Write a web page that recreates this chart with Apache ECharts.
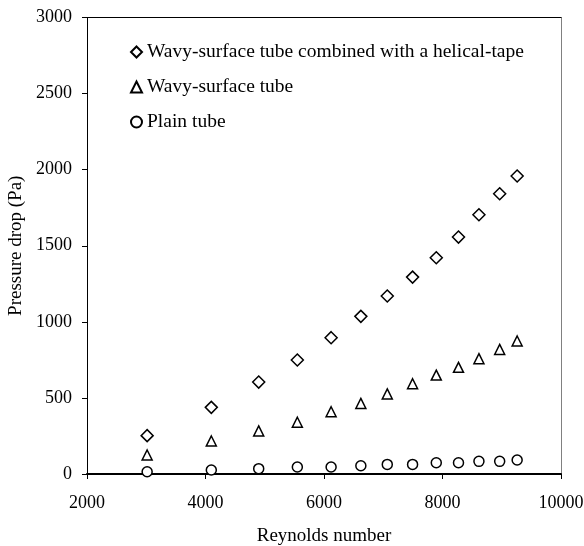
<!DOCTYPE html>
<html>
<head>
<meta charset="utf-8">
<script src="https://cdn.jsdelivr.net/npm/echarts@6/dist/echarts.min.js"></script>
<style>html,body{margin:0;padding:0;background:#fff}#c{width:584px;height:546px}</style>
</head>
<body>
<div id="c"></div>
<script>
var reynolds = [3015, 4098, 4898, 5550, 6120, 6622, 7068, 7495, 7895, 8270, 8615, 8965, 9260];
var helicalTape = [252, 438, 604, 749, 896, 1036, 1170, 1294, 1421, 1557, 1704, 1842, 1958];
var wavyTube = [125, 217, 283, 340, 409, 464, 526, 593, 650, 701, 758, 819, 874];
var plainTube = [15, 26, 35, 46, 46, 54, 63, 63, 74, 74, 83, 83, 92];
var seriesNames = ['Wavy-surface tube combined with a helical-tape', 'Wavy-surface tube', 'Plain tube'];

function pairs(ys){ return reynolds.map(function(x,i){ return [x, ys[i]]; }); }
var FONT = 'Liberation Serif';
var chart = echarts.init(document.getElementById('c'), null, {renderer:'canvas'});
function mk(name, sym, size, ys){
  return {
    name: name, type: 'scatter', symbol: sym, symbolSize: size,
    data: pairs(ys),
    itemStyle: {color: '#fff', borderColor: '#000', borderWidth: 1.5, opacity: 1},
    emphasis: {disabled: true}
  };
}
function plain(v){ return String(v); }
chart.setOption({
  animation: false,
  backgroundColor: '#fff',
  grid: {left: 87, right: 23, top: 17.5, bottom: 72, show: false, containLabel: false, outerBoundsMode: 'none'},
  legend: {
    orient: 'vertical', left: 125, top: 37, itemGap: 15,
    itemWidth: 11, itemHeight: 11,
    textStyle: {fontFamily: FONT, fontSize: 19.5, color: '#000'},
    data: seriesNames
  },
  xAxis: [{
    type: 'value', min: 2000, max: 10000, interval: 2000,
    name: 'Reynolds number', nameLocation: 'middle', nameGap: 53,
    nameTextStyle: {fontFamily: FONT, fontSize: 19, color: '#000'},
    axisLine: {show: true, onZero: false, lineStyle: {color: '#000', width: 2}},
    axisTick: {show: true, inside: false, length: 5, lineStyle: {color: '#000', width: 1}},
    axisLabel: {fontFamily: FONT, fontSize: 18, color: '#000', margin: 20, formatter: plain},
    splitLine: {show: false}
  },{
    type: 'value', position: 'top', min: 2000, max: 10000, interval: 2000,
    axisLine: {show: true, onZero: false, lineStyle: {color: '#000', width: 1}},
    axisTick: {show: false}, axisLabel: {show: false}, splitLine: {show: false}
  }],
  yAxis: [{
    type: 'value', min: 0, max: 3000, interval: 500,
    name: 'Pressure drop (Pa)', nameLocation: 'middle', nameGap: 58, nameRotate: 90,
    nameTextStyle: {fontFamily: FONT, fontSize: 19, color: '#000'},
    axisLine: {show: true, onZero: false, lineStyle: {color: '#000', width: 1}},
    axisTick: {show: true, inside: false, length: 5, lineStyle: {color: '#000', width: 1}},
    axisLabel: {fontFamily: FONT, fontSize: 18, color: '#000', margin: 15, formatter: plain},
    splitLine: {show: false}
  },{
    type: 'value', position: 'right', min: 0, max: 3000, interval: 500,
    axisLine: {show: true, onZero: false, lineStyle: {color: '#808080', width: 1}},
    axisTick: {show: false}, axisLabel: {show: false}, splitLine: {show: false}
  }],
  series: [
    mk(seriesNames[0], 'diamond', 12, helicalTape),
    mk(seriesNames[1], 'triangle', 10, wavyTube),
    mk(seriesNames[2], 'circle', 10, plainTube)
  ]
});
</script>
</body>
</html>
